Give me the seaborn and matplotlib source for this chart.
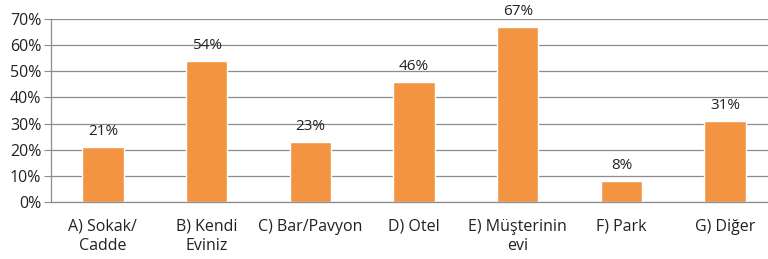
import matplotlib.pyplot as plt
import seaborn as sns
import pandas as pd
import numpy as np

# data
categories = ["A) Sokak/\nCadde", "B) Kendi\nEviniz", "C) Bar/Pavyon", "D) Otel",
              "E) Müşterinin\nevi", "F) Park", "G) Diğer"]
values = [21, 54, 23, 46, 67, 8, 31]
yticks = [0, 10, 20, 30, 40, 50, 60, 70]

df = pd.DataFrame({"cat": categories, "val": values})

sns.set_style("white")
plt.rcParams['font.family'] = ['Open Sans', 'DejaVu Sans']

fig = plt.figure(figsize=(7.68, 2.59), dpi=100)
ax = fig.add_axes([51 / 768, 57 / 259, 726 / 768, 183 / 259])

sns.barplot(data=df, x="cat", y="val", color="#F39442", saturation=1, width=0.4, ax=ax)

# value labels
for i, v in enumerate(values):
    ax.annotate(f"{v}%", (i, v), xytext=(0, 5.5), textcoords="offset points",
                ha="center", va="bottom", fontsize=11, color="#222222")

ax.set_ylim(0, 70)
ax.set_xlim(-0.5, len(categories) - 0.5)
ax.set_yticks(yticks)
ax.set_yticklabels([f"{t}%" for t in yticks], fontsize=11.5, color="#222222")
ax.yaxis.grid(True, color="#8c8c8c", linewidth=0.9)
ax.set_axisbelow(True)
ax.set_xlabel("")
ax.set_ylabel("")

# category separators as tick marks
ax.set_xticks(np.arange(len(categories)))
ax.set_xticklabels(categories, fontsize=11.5, color="#222222", linespacing=1.3)
ax.tick_params(axis="x", length=0, pad=12)
ax.set_xticks(np.arange(len(categories) + 1) - 0.5, minor=True)
ax.tick_params(axis="x", which="minor", length=5, color="#8c8c8c", direction="out")
ax.tick_params(axis="y", length=5, color="#8c8c8c", direction="out", pad=2, left=True)

for s in ["top", "right"]:
    ax.spines[s].set_visible(False)
for s in ["left", "bottom"]:
    ax.spines[s].set_color("#8c8c8c")
    ax.spines[s].set_linewidth(0.9)

fig.savefig("out.png", dpi=100)
